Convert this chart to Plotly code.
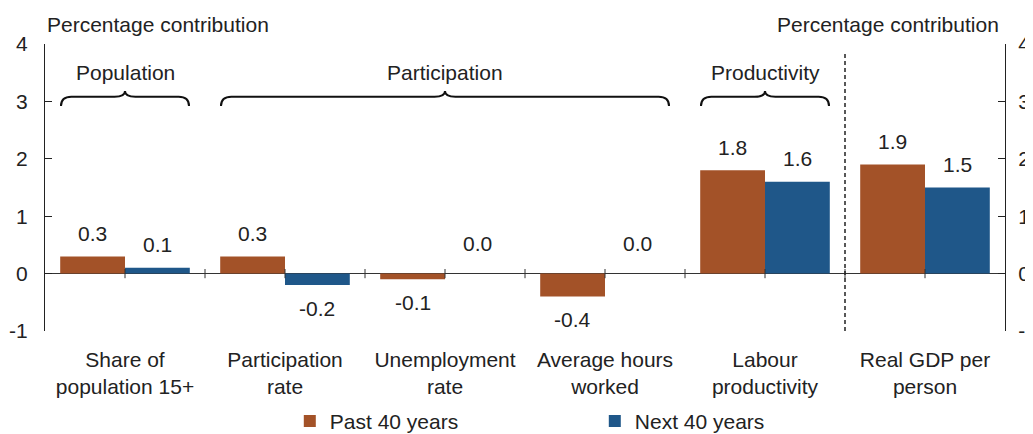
import plotly.graph_objects as go

# ---- data ----
categories = ["Share of<br>population 15+", "Participation<br>rate", "Unemployment<br>rate",
              "Average hours<br>worked", "Labour<br>productivity", "Real GDP per<br>person"]
past_40 = [0.3, 0.3, -0.1, -0.4, 1.8, 1.9]
next_40 = [0.1, -0.2, 0.0, 0.0, 1.6, 1.5]
series_names = ["Past 40 years", "Next 40 years"]
groups = [("Population", 0, 0), ("Participation", 1, 3), ("Productivity", 4, 4)]
y_ticks = [-1, 0, 1, 2, 3, 4]
y_tick_labels = ["-1", "0", "1", "2", "3", "4"]
axis_title = "Percentage contribution"

# ---- style ----
ORANGE = "#A35228"
BLUE = "#1F5789"
TXT = "#222222"
FONT = "Liberation Sans, Arial, sans-serif"
FS = 21
BARGAP = 0.19

xs = list(range(len(categories)))
n = len(categories)

fig = go.Figure()
fig.add_trace(go.Bar(x=xs, y=past_40, name=series_names[0], marker_color=ORANGE,
                     marker_line_width=0, hoverinfo="skip"))
fig.add_trace(go.Bar(x=xs, y=next_40, name=series_names[1], marker_color=BLUE,
                     marker_line_width=0, hoverinfo="skip"))
# invisible trace so that the right-hand axis is drawn
fig.add_trace(go.Scatter(x=[xs[0]], y=[0], yaxis="y2", mode="markers",
                         marker=dict(opacity=0), showlegend=False, hoverinfo="skip"))

shapes = []
annotations = []

# value labels
half = (1 - BARGAP) / 4
for vals, off in ((past_40, -half), (next_40, half)):
    for i, v in enumerate(vals):
        if v > 0:
            ys = 23
        elif v < 0:
            ys = -23
        else:
            ys = 30
        annotations.append(dict(x=i + off, y=v, xref="x", yref="y", text=f"{v:.1f}",
                                showarrow=False, yshift=ys, yanchor="middle",
                                font=dict(size=FS, color=TXT, family=FONT)))

# tick marks crossing the zero line
for k in range(0, 2 * n - 1):
    xt = k / 2
    shapes.append(dict(type="line", xref="x", yref="y", x0=xt, x1=xt, y0=-0.08, y1=0.08,
                       line=dict(color="#333333", width=1)))

# braces and group labels
yb, yh, yt = 2.92, 3.08, 3.18
for label, a, b in groups:
    x0, x1 = a - 0.4, b + 0.4
    xm = (a + b) / 2
    dx = 0.065
    path = (f"M{x0},{yb} Q{x0},{yh} {x0+dx},{yh} L{xm-dx},{yh} Q{xm},{yh} {xm},{yt} "
            f"Q{xm},{yh} {xm+dx},{yh} L{x1-dx},{yh} Q{x1},{yh} {x1},{yb}")
    shapes.append(dict(type="path", xref="x", yref="y", path=path,
                       line=dict(color="#111111", width=2)))
    annotations.append(dict(x=xm, y=yt, xref="x", yref="y", text=label, showarrow=False,
                            yshift=19, yanchor="middle",
                            font=dict(size=FS, color=TXT, family=FONT)))

# dashed separator between Labour productivity and Real GDP per person
shapes.append(dict(type="line", xref="x", yref="y", x0=n - 1.5, x1=n - 1.5, y0=-1, y1=3.85,
                   line=dict(color="#222222", width=1.5, dash="4px,3px")))

# axis titles
annotations.append(dict(x=0, y=1, xref="paper", yref="paper", text=axis_title, showarrow=False,
                        xanchor="left", yanchor="middle", yshift=20, xshift=0,
                        font=dict(size=FS, color=TXT, family=FONT)))
annotations.append(dict(x=1, y=1, xref="paper", yref="paper", text=axis_title, showarrow=False,
                        xanchor="right", yanchor="middle", yshift=20, xshift=-4,
                        font=dict(size=FS, color=TXT, family=FONT)))

yaxis_common = dict(range=[-1, 4], tickmode="array", tickvals=y_ticks, ticktext=y_tick_labels,
                    ticks="inside", ticklen=7, tickcolor="#222",
                    showline=True, linecolor="#222", linewidth=1, showgrid=False,
                    automargin=False,
                    tickfont=dict(size=FS, color=TXT, family=FONT))

# the page body adds an 8px offset, so the figure is 8px smaller than the window
fig.update_layout(
    width=1025, height=426,
    margin=dict(l=37, r=28, t=36, b=103, autoexpand=False),
    paper_bgcolor="white", plot_bgcolor="white",
    barmode="group", bargap=BARGAP, bargroupgap=0,
    xaxis=dict(range=[-0.5, n - 0.5], tickvals=xs, ticktext=categories, ticks="",
               showline=False, showgrid=False, zeroline=False, ticklabelstandoff=14,
               automargin=False,
               tickfont=dict(size=FS, color=TXT, family=FONT)),
    yaxis=dict(**yaxis_common, zeroline=True, zerolinecolor="#333", zerolinewidth=1,
               ticklabelstandoff=12),
    yaxis2=dict(**yaxis_common, overlaying="y", side="right", zeroline=False,
                ticklabelstandoff=8),
    legend=dict(orientation="h", x=0.255, y=-0.243, xanchor="left", yanchor="top",
                entrywidth=260, font=dict(size=FS, color=TXT, family=FONT),
                bgcolor="rgba(0,0,0,0)"),
    shapes=shapes, annotations=annotations,
    showlegend=True,
)

fig.write_html("out.html")
